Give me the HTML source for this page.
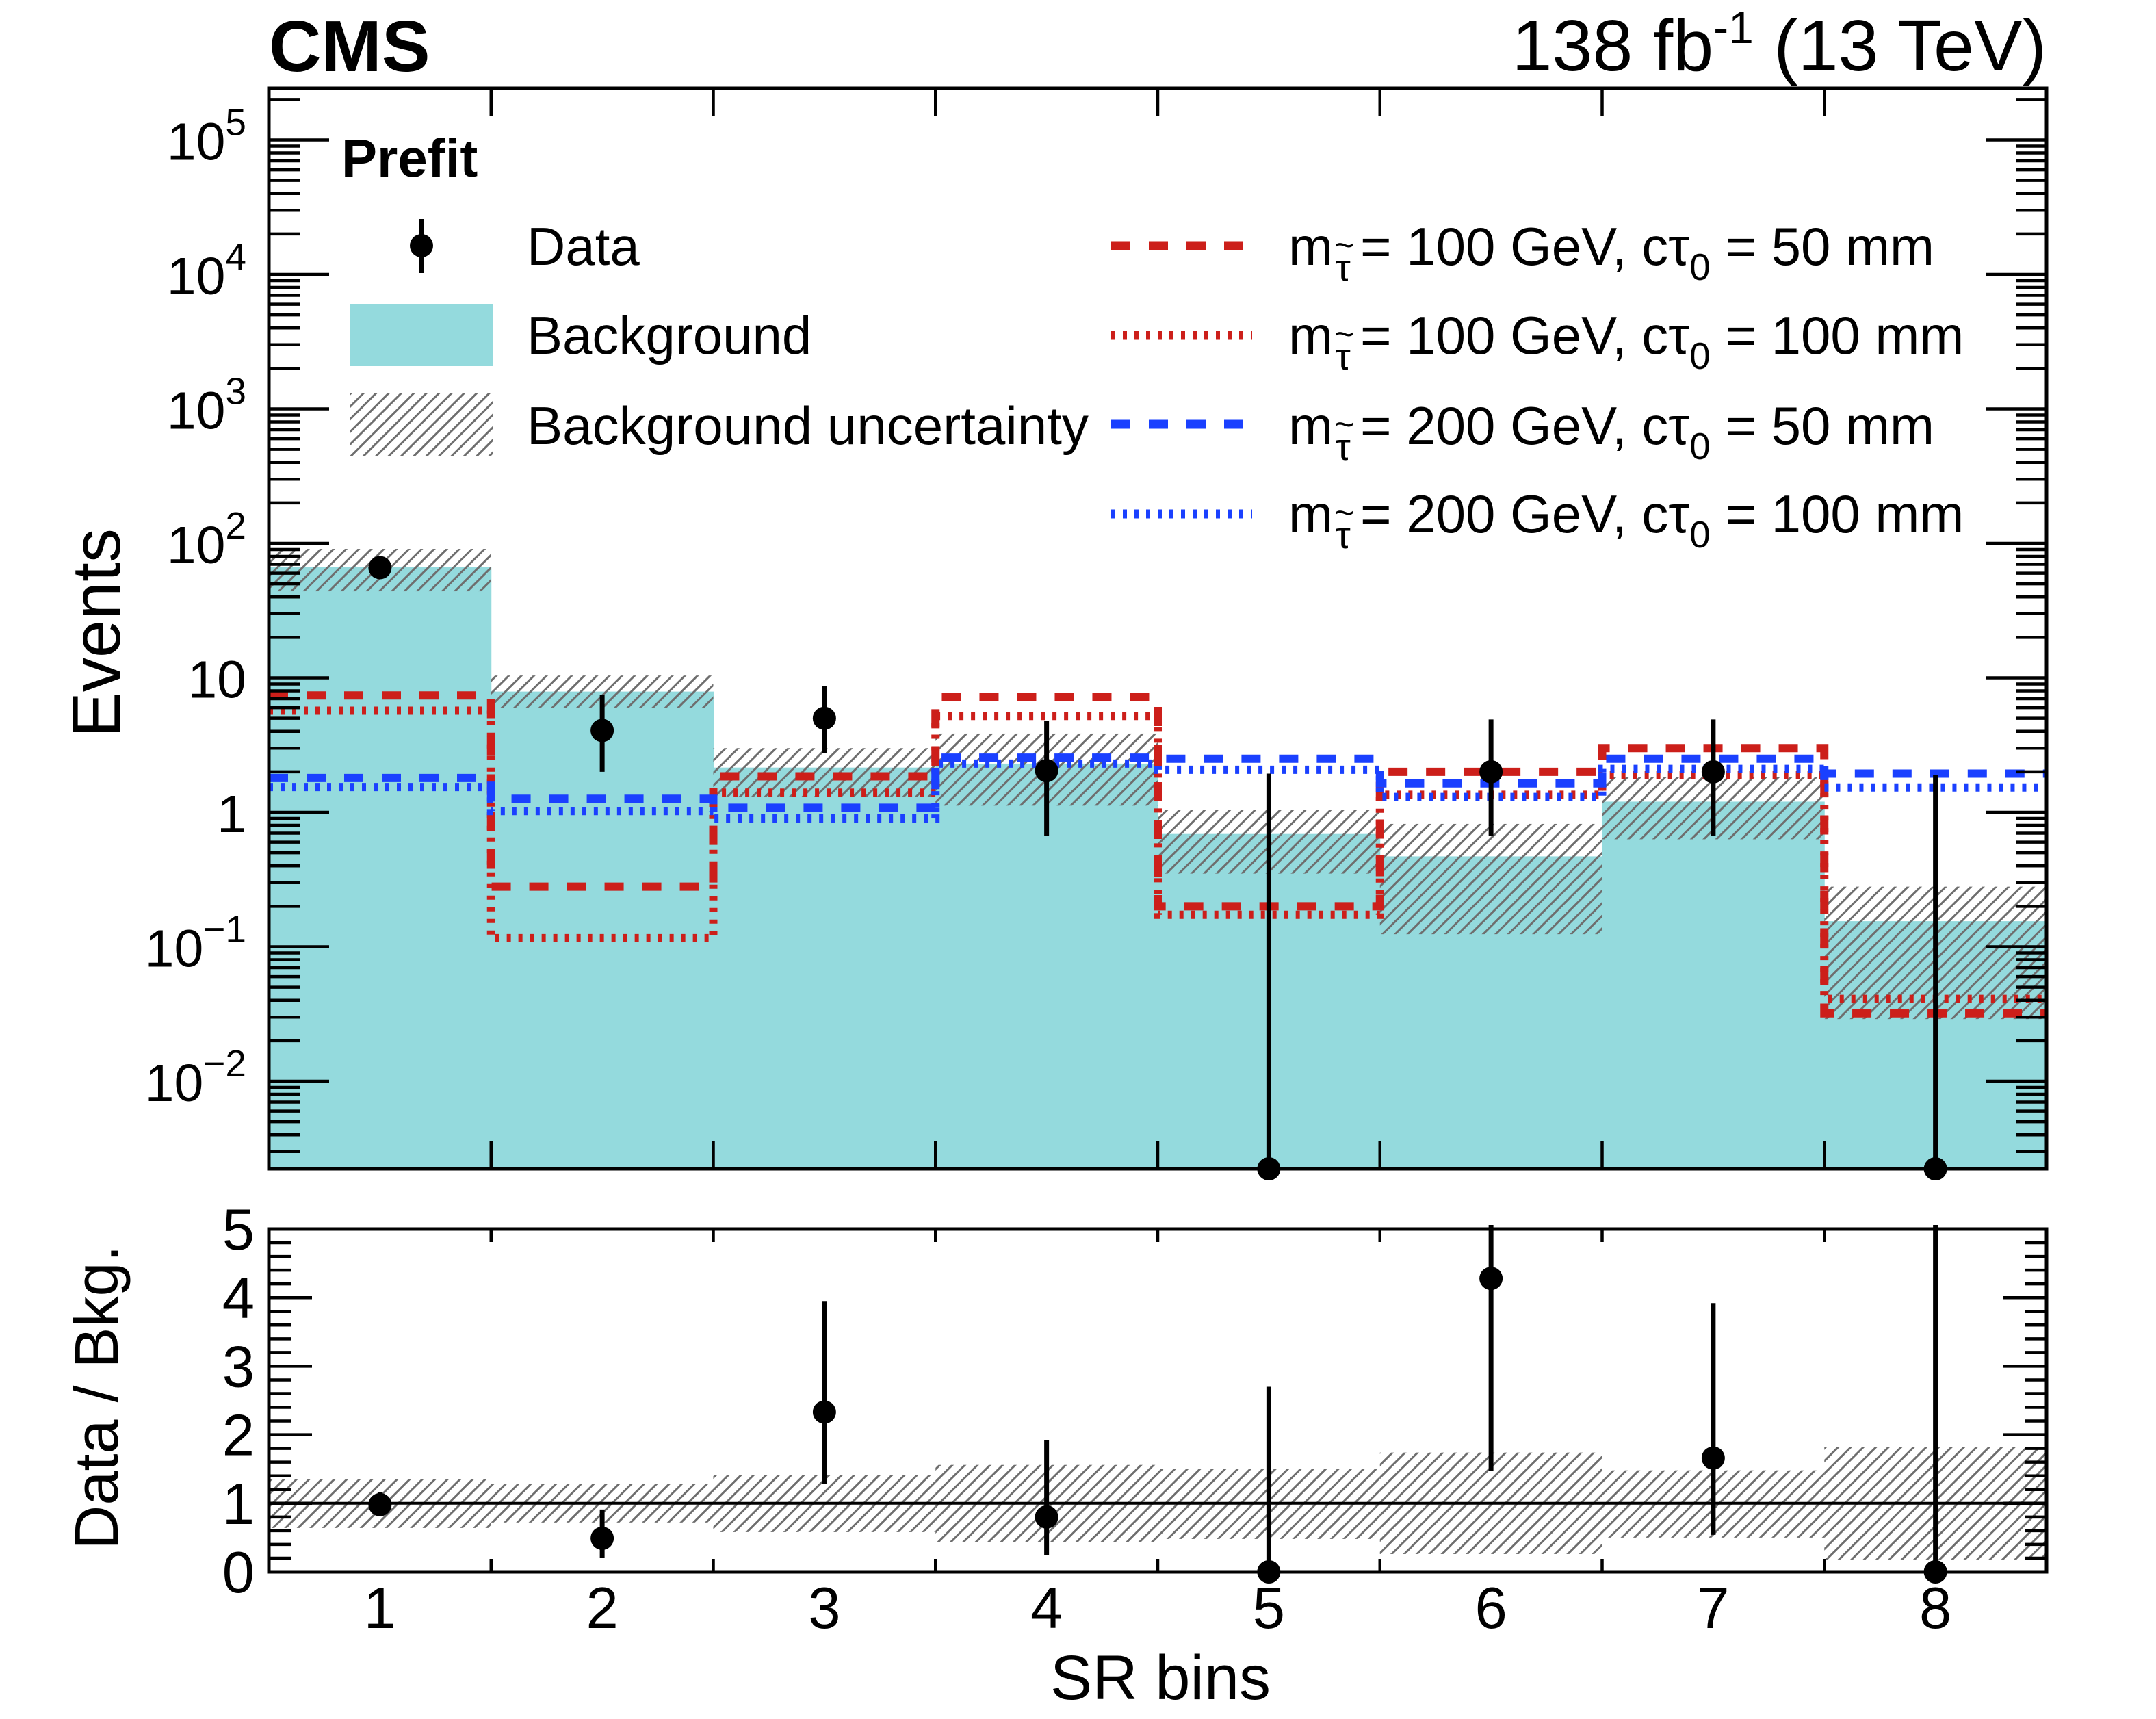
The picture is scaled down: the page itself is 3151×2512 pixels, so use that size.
<!DOCTYPE html>
<html><head><meta charset="utf-8"><style>
html,body{margin:0;padding:0;background:#fff;}
svg{display:block;font-family:"Liberation Sans",Arial,sans-serif;}
</style></head><body>
<svg id="chart" width="3151" height="2512" viewBox="0 0 3151 2512" xmlns="http://www.w3.org/2000/svg">
<defs>
<pattern id="hatch" patternUnits="userSpaceOnUse" width="13" height="13" patternTransform="rotate(45)">
<line x1="2" y1="-2" x2="2" y2="15" stroke="#6e6e6e" stroke-width="3"/>
</pattern>
<clipPath id="clipTop"><rect x="393" y="129" width="2598" height="1579"/></clipPath>
<clipPath id="clipBot"><rect x="393" y="1790" width="2598" height="507"/></clipPath>
</defs>
<g id="top-marks" clip-path="url(#clipTop)"></g>
<g id="bot-marks" clip-path="url(#clipBot)"></g>
<g id="axes"></g>

<text x="393" y="104" font-size="106" font-weight="bold">CMS</text>
<text x="2991" y="103" font-size="106" text-anchor="end">138 fb<tspan dy="-40" font-size="66">-1</tspan><tspan dy="40"> (13 TeV)</tspan></text>

<text transform="translate(175,925) rotate(-90)" font-size="100" text-anchor="middle">Events</text>
<text transform="translate(172,2042) rotate(-90)" font-size="90" text-anchor="middle">Data / Bkg.</text>
<text x="1696" y="2483" font-size="92" text-anchor="middle">SR bins</text>

<g font-size="78">
<text x="499" y="258" font-weight="bold">Prefit</text>
<g>
<line x1="616" y1="320" x2="616" y2="399" stroke="#000" stroke-width="7"/>
<circle cx="616" cy="359" r="17"/>
<text x="770" y="387">Data</text></g>
<g>
<rect x="511" y="444" width="210" height="91" fill="#94dadd"/>
<text x="770" y="517">Background</text></g>
<g>
<rect x="511" y="574" width="210" height="92" fill="url(#hatch)"/>
<text x="770" y="649" textLength="821" lengthAdjust="spacingAndGlyphs">Background uncertainty</text></g>

<g>
<line x1="1624" y1="359" x2="1830" y2="359" stroke="#cc1f1a" stroke-width="13" stroke-dasharray="28 27"/>
<text x="1883" y="387">m</text><text x="1952" y="410" font-size="55">τ</text><text x="1950" y="375" font-size="50">~</text>
<text x="1988" y="387">= 100 GeV, cτ<tspan dy="22" font-size="55">0</tspan><tspan dy="-22"> = 50 mm</tspan></text></g>
<g>
<line x1="1624" y1="490" x2="1830" y2="490" stroke="#cc1f1a" stroke-width="13" stroke-dasharray="6 11"/>
<text x="1883" y="517">m</text><text x="1952" y="540" font-size="55">τ</text><text x="1950" y="505" font-size="50">~</text>
<text x="1988" y="517">= 100 GeV, cτ<tspan dy="22" font-size="55">0</tspan><tspan dy="-22"> = 100 mm</tspan></text></g>
<g>
<line x1="1624" y1="620" x2="1830" y2="620" stroke="#1a40ff" stroke-width="13" stroke-dasharray="28 27"/>
<text x="1883" y="649">m</text><text x="1952" y="672" font-size="55">τ</text><text x="1950" y="637" font-size="50">~</text>
<text x="1988" y="649">= 200 GeV, cτ<tspan dy="22" font-size="55">0</tspan><tspan dy="-22"> = 50 mm</tspan></text></g>
<g>
<line x1="1624" y1="751" x2="1830" y2="751" stroke="#1a40ff" stroke-width="13" stroke-dasharray="6 11"/>
<text x="1883" y="778">m</text><text x="1952" y="801" font-size="55">τ</text><text x="1950" y="766" font-size="50">~</text>
<text x="1988" y="778">= 200 GeV, cτ<tspan dy="22" font-size="55">0</tspan><tspan dy="-22"> = 100 mm</tspan></text></g>
</g>
</svg>
<script>
const bins = [1,2,3,4,5,6,7,8];
const bkg = [67, 7.9, 2.15, 2.3, 0.69, 0.47, 1.2, 0.155];
const bkgHi = [91, 10.4, 3.0, 3.85, 1.04, 0.82, 1.82, 0.28];
const bkgLo = [44, 6.0, 1.3, 1.12, 0.35, 0.124, 0.63, 0.029];
const dataVals = [66, 4.06, 5.0, 2.04, 0, 2.0, 2.0, 0];
const dataHi = [70, 7.5, 8.7, 4.8, 1.94, 4.9, 4.9, 1.9];
const dataLo = [62, 2.0, 2.75, 0.67, 0, 0.67, 0.67, 0];
const sig100_50 = [7.4, 0.28, 1.85, 7.2, 0.2, 2.0, 3.0, 0.032];
const sig100_100 = [5.7, 0.116, 1.4, 5.2, 0.173, 1.35, 1.89, 0.041];
const sig200_50 = [1.8, 1.26, 1.08, 2.55, 2.5, 1.64, 2.5, 1.94];
const sig200_100 = [1.54, 1.02, 0.9, 2.3, 2.07, 1.3, 2.1, 1.53];
const ratio = [0.98, 0.49, 2.33, 0.80, 0, 4.28, 1.66, 0];
const ratioHi = [1.16, 0.91, 3.95, 1.92, 2.70, 5.2, 3.92, 5.2];
const ratioLo = [0.82, 0.21, 1.28, 0.24, 0, 1.47, 0.54, 0];
const ratioBandHi = [1.35, 1.28, 1.41, 1.56, 1.5, 1.74, 1.48, 1.82];
const ratioBandLo = [0.64, 0.72, 0.58, 0.43, 0.48, 0.26, 0.5, 0.18];
const logTickLabels = ["10^-2","10^-1","1","10","10^2","10^3","10^4","10^5"];
const logTickExps = [-2,-1,0,1,2,3,4,5];
const ratioTicks = [0,1,2,3,4,5];

const NS = "http://www.w3.org/2000/svg";
const L = 393, R = 2991, T = 129, B = 1708, BT = 1796, BB = 2297;
const BW = (R - L) / bins.length;
function xEdge(i){ return L + i * BW; }
function xCenter(i){ return L + (i + 0.5) * BW; }
function yLog(v){ if (v <= 0) return B + 20; return 794 - (Math.log10(v) - 2) * 196.5; }
function yRat(v){ return BB - v * 100.2; }
function mk(tag, attrs, parent){ const e = document.createElementNS(NS, tag); for (const k in attrs) e.setAttribute(k, attrs[k]); parent.appendChild(e); return e; }

const topG = document.getElementById('top-marks');
const botG = document.getElementById('bot-marks');
const axesG = document.getElementById('axes');

bins.forEach((b, i) => {
  const y = yLog(bkg[i]);
  const r = mk('rect', {x: xEdge(i), y: y, width: BW + 0.5, height: B - y, fill: '#94dadd'}, topG);
  
  
});
bins.forEach((b, i) => {
  const y1 = yLog(bkgHi[i]), y2 = yLog(bkgLo[i]);
  const r = mk('rect', {x: xEdge(i), y: y1, width: BW, height: y2 - y1, fill: 'url(#hatch)'}, topG);
  
  
});
function stepPath(vals){
  let d = '';
  vals.forEach((v, i) => {
    const y = yLog(v);
    d += (i === 0 ? 'M' + xEdge(0) + ' ' + y : ' V' + y) + ' H' + xEdge(i + 1);
  });
  return d;
}
const sigs = [[sig100_50, '#cc1f1a', '28 27', 'signal-m100-ct50'], [sig100_100, '#cc1f1a', '6 11', 'signal-m100-ct100'], [sig200_50, '#1a40ff', '28 27', 'signal-m200-ct50'], [sig200_100, '#1a40ff', '6 11', 'signal-m200-ct100']];
sigs.forEach(s => {
  const p = mk('path', {d: stepPath(s[0]), fill: 'none', stroke: s[1], 'stroke-width': 12, 'stroke-dasharray': s[2]}, topG);
  
  
});
bins.forEach((b, i) => {
  const cx = xCenter(i);
  const yv = dataVals[i] > 0 ? yLog(dataVals[i]) : B;
  const yh = yLog(dataHi[i]);
  const yl = dataLo[i] > 0 ? yLog(dataLo[i]) : B;
  const g = mk('g', {}, axesG);
  
  
  mk('line', {x1: cx, x2: cx, y1: yh, y2: yl, stroke: '#000', 'stroke-width': 7}, g);
  mk('circle', {cx: cx, cy: yv, r: 17, fill: '#000'}, g);
});
bins.forEach((b, i) => {
  const y1 = yRat(ratioBandHi[i]), y2 = yRat(ratioBandLo[i]);
  const r = mk('rect', {x: xEdge(i), y: y1, width: BW, height: y2 - y1, fill: 'url(#hatch)'}, botG);
  
  
});
const unity = mk('line', {x1: L, x2: R, y1: yRat(1), y2: yRat(1), stroke: '#000', 'stroke-width': 4}, botG);


bins.forEach((b, i) => {
  const cx = xCenter(i);
  const g = mk('g', {}, botG);
  
  
  mk('line', {x1: cx, x2: cx, y1: yRat(ratioHi[i]), y2: yRat(ratioLo[i]), stroke: '#000', 'stroke-width': 7}, g);
  mk('circle', {cx: cx, cy: yRat(ratio[i]), r: 17, fill: '#000'}, g);
});
bins.forEach((b, i) => {
  if (ratio[i] === 0) {
    const c = mk('circle', {cx: xCenter(i), cy: BB, r: 17, fill: '#000'}, axesG);
    
    
  }
});

[[T, B], [BT, BB]].forEach((f, k) => {
  const r = mk('rect', {x: L, y: f[0], width: R - L, height: f[1] - f[0], fill: 'none', stroke: '#000', 'stroke-width': 5}, axesG);
  
  
});
const tk = mk('g', {stroke: '#000', 'stroke-width': 4.5}, axesG);


for (let e = -3; e <= 5; e++) {
  for (let m = 1; m <= 9; m++) {
    const y = yLog(m * Math.pow(10, e));
    if (y < T + 2 || y > B - 2) continue;
    const len = m === 1 ? 88 : 45;
    mk('line', {x1: L, x2: L + len, y1: y, y2: y}, tk);
    mk('line', {x1: R, x2: R - len, y1: y, y2: y}, tk);
  }
}
for (let i = 1; i < bins.length; i++) {
  const x = xEdge(i);
  mk('line', {x1: x, x2: x, y1: T, y2: T + 40}, tk);
  mk('line', {x1: x, x2: x, y1: B, y2: B - 40}, tk);
  mk('line', {x1: x, x2: x, y1: BT, y2: BT + 19}, tk);
  mk('line', {x1: x, x2: x, y1: BB, y2: BB - 19}, tk);
}
for (let k = 0; k <= 25; k++) {
  const v = k * 0.2;
  const y = yRat(v);
  const len = (k % 5 === 0) ? 63 : 32;
  mk('line', {x1: L, x2: L + len, y1: y, y2: y}, tk);
  mk('line', {x1: R, x2: R - len, y1: y, y2: y}, tk);
}
logTickExps.forEach((e, i) => {
  const y = yLog(Math.pow(10, e)) + 29;
  const lab = logTickLabels[i];
  const t = mk('text', {x: 360, y: y, 'font-size': 77, 'text-anchor': 'end'}, axesG);
  
  
  if (lab.indexOf('^') >= 0) {
    const parts = lab.split('^');
    t.appendChild(document.createTextNode(parts[0]));
    const sup = mk('tspan', {dy: -36, 'font-size': 55}, t);
    sup.textContent = parts[1].replace('-', '\u2212');
  } else {
    t.textContent = lab;
  }
});
ratioTicks.forEach(v => {
  const t = mk('text', {x: 372, y: yRat(v) + 30, 'font-size': 85, 'text-anchor': 'end'}, axesG);
  
  
  t.textContent = String(v);
});
bins.forEach((b, i) => {
  const t = mk('text', {x: xCenter(i), y: 2379, 'font-size': 85, 'text-anchor': 'middle'}, axesG);
  
  
  t.textContent = String(b);
});
</script>
</body></html>
